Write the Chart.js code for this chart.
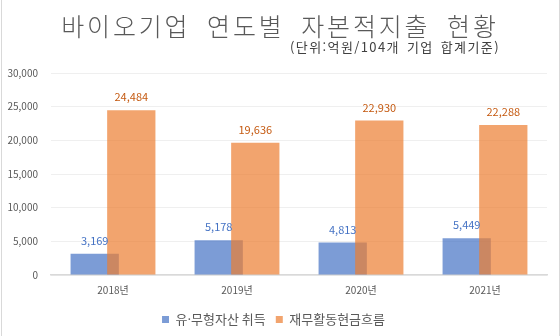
<!DOCTYPE html>
<html lang="ko">
<head>
<meta charset="utf-8">
<script src="https://cdn.jsdelivr.net/npm/chart.js@4"></script>
<style>
  body { margin: 0; background: #fff; }
  #wrap { position: relative; width: 560px; height: 336px; }
  #wrap::before, #wrap::after {
    content: ''; position: absolute; top: 0; bottom: 0; width: 1px; background: #d9d9d9;
  }
  #wrap::before { left: 1px; }
  #wrap::after { right: 0; }
  .title {
    position: absolute; left: 0; width: 560px; top: 9px; text-align: center;
    font-family: 'Noto Sans CJK KR'; font-weight: 300; font-size: 25px; color: #595959;
    letter-spacing: 2.8px; word-spacing: 7px; line-height: 32px; padding-left: 0; box-sizing: border-box;
  }
  .subtitle {
    position: absolute; right: 60px; top: 38px;
    font-family: 'Noto Sans CJK KR'; font-size: 13px; color: #404040; line-height: 18px;
    letter-spacing: 1.4px; word-spacing: 2px;
  }
</style>
</head>
<body>
<div id="wrap">
  <canvas id="chart" width="560" height="336"></canvas>
  <div class="title">바이오기업 연도별 자본적지출 현황</div>
  <div class="subtitle">(단위:억원/104개 기업 합계기준)</div>
</div>
<script>
const years = ['2018년', '2019년', '2020년', '2021년'];
const tangibleAcq = [3169, 5178, 4813, 5449];
const financingCF = [24484, 19636, 22930, 22288];
const seriesNames = ['유·무형자산 취득', '재무활동현금흐름'];
const labelColors = ['#4472c4', '#c55a11'];

const fontKo = "'Noto Sans CJK KR', 'Noto Sans', sans-serif";

// 주황 막대가 파란 막대 위에 겹쳐 보이도록 순서대로 그림
const drawInOrder = {
  id: 'drawInOrder',
  beforeDatasetsDraw(chart) {
    const metas = chart.getSortedVisibleDatasetMetas().slice().sort((a, b) => a.index - b.index);
    metas.forEach(meta => meta.controller.draw());

    const ctx = chart.ctx;
    ctx.save();
    ctx.font = '11px ' + fontKo;
    ctx.textAlign = 'center';
    ctx.textBaseline = 'middle';
    metas.forEach(meta => {
      const values = chart.data.datasets[meta.index].data;
      ctx.fillStyle = labelColors[meta.index];
      meta.data.forEach((bar, i) => {
        ctx.fillText(values[i].toLocaleString('en-US'), bar.x, bar.y - 13);
      });
    });
    ctx.restore();
    return false;
  }
};

new Chart(document.getElementById('chart'), {
  type: 'bar',
  data: {
    labels: years,
    datasets: [
      {
        label: seriesNames[0],
        data: tangibleAcq,
        backgroundColor: 'rgba(68, 114, 196, 0.7)'
      },
      {
        label: seriesNames[1],
        data: financingCF,
        backgroundColor: 'rgba(237, 125, 49, 0.7)'
      }
    ]
  },
  options: {
    responsive: false,
    animation: false,
    categoryPercentage: 0.59,
    barPercentage: 1.32,
    layout: { padding: { top: 73, right: 13, left: 0, bottom: 0 } },
    scales: {
      x: {
        grid: { display: false, drawTicks: false },
        border: { color: '#d9d9d9', width: 1.5 },
        ticks: { color: '#595959', font: { family: fontKo, size: 10 }, padding: 9 },
        afterFit(scale) { scale.height = 28; }
      },
      y: {
        min: 0,
        max: 30000,
        ticks: {
          stepSize: 5000,
          color: '#595959',
          font: { family: fontKo, size: 10 },
          padding: 13,
          callback: v => v.toLocaleString('en-US')
        },
        grid: { color: '#efefef', drawTicks: false },
        border: { display: false },
        afterFit(scale) { scale.width = 51; }
      }
    },
    plugins: {
      legend: {
        position: 'bottom',
        labels: {
          boxWidth: 7,
          boxHeight: 7,
          padding: 10,
          color: '#595959',
          font: { family: fontKo, size: 13 }
        }
      },
      tooltip: { enabled: false }
    }
  },
  plugins: [drawInOrder]
});
</script>
</body>
</html>
